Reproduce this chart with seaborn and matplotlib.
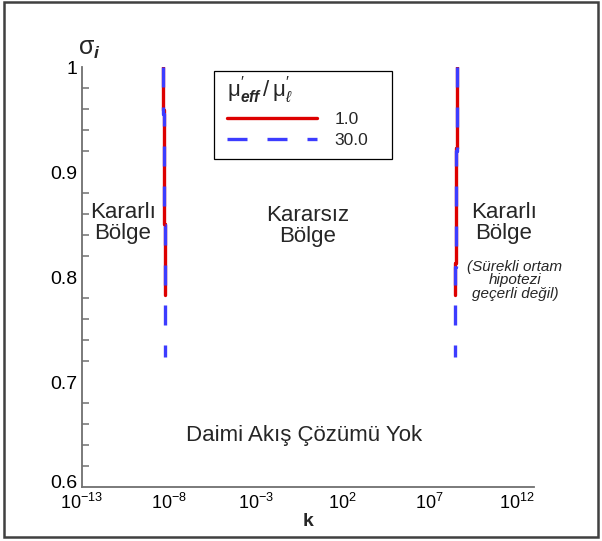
import numpy as np
import pandas as pd
import matplotlib
matplotlib.use("Agg")
import matplotlib.pyplot as plt
from matplotlib.patches import Rectangle
from matplotlib.lines import Line2D
from matplotlib.ticker import FixedLocator, MultipleLocator, FuncFormatter
from matplotlib.transforms import ScaledTranslation
import seaborn as sns

# Stability boundaries: sigma_i versus log10(k) for two viscosity ratios
ratio_labels = ["1.0", "30.0"]

# mu'_eff/mu'_l = 1.0
sigma_r1_low = [1.00, 0.959, 0.959, 0.851, 0.851, 0.783]
logk_r1_low = [-8.35, -8.35, -8.29, -8.29, -8.23, -8.23]
sigma_r1_high = [1.00, 0.923, 0.923, 0.813, 0.813, 0.783]
logk_r1_high = [8.57, 8.57, 8.49, 8.49, 8.44, 8.44]

# mu'_eff/mu'_l = 30.0
sigma_r30_low = [1.00, 0.955, 0.955, 0.850, 0.850, 0.724]
logk_r30_low = [-8.35, -8.35, -8.29, -8.29, -8.23, -8.23]
sigma_r30_high = [1.00, 0.920, 0.920, 0.810, 0.810, 0.724]
logk_r30_high = [8.57, 8.57, 8.49, 8.49, 8.44, 8.44]

x_tick_exponents = [-13, -8, -3, 2, 7, 12]
y_tick_values = [0.6, 0.7, 0.8, 0.9, 1.0]
y_tick_labels = ["0.6", "0.7", "0.8", "0.9", "1"]

rows = []
for ratio, branch, logk, sig in [
    ("1.0", "low", logk_r1_low, sigma_r1_low),
    ("1.0", "high", logk_r1_high, sigma_r1_high),
    ("30.0", "low", logk_r30_low, sigma_r30_low),
    ("30.0", "high", logk_r30_high, sigma_r30_high),
]:
    for lk, s in zip(logk, sig):
        rows.append({"ratio": ratio, "branch": ratio + branch, "k": 10.0 ** lk, "sigma": s})
df = pd.DataFrame(rows)

sns.set_theme(style="white")
plt.rcParams["font.family"] = ["Liberation Sans", "DejaVu Sans"]
plt.rcParams["mathtext.fontset"] = "custom"
plt.rcParams["mathtext.rm"] = "Liberation Sans"
plt.rcParams["mathtext.it"] = "Liberation Sans:italic"
plt.rcParams["mathtext.bf"] = "Liberation Sans:bold:italic"

fig = plt.figure(figsize=(6.02, 5.41), dpi=100)
ax = fig.add_axes([0.136, 0.0998, 0.751, 0.776])

red = "#dd0000"
blue = "#3c3cff"
palette = {"1.0": red, "30.0": blue}
dashes = {"1.0": "", "30.0": (6, 6)}

for ratio in ratio_labels:
    sns.lineplot(data=df[df.ratio == ratio], x="k", y="sigma", hue="ratio", style="ratio",
                 units="branch", estimator=None, sort=False, palette=palette,
                 dashes=dashes, linewidth=2.4, legend=False, ax=ax)

ax.set_xscale("log")
ax.set_xlim(1e-13, 1e13)
ax.set_ylim(0.6, 1.0)

ax.xaxis.set_major_locator(FixedLocator([10.0 ** e for e in x_tick_exponents]))
ax.xaxis.set_minor_locator(FixedLocator([]))
ax.xaxis.set_major_formatter(FuncFormatter(lambda v, p: r"$10^{%d}$" % round(np.log10(v))))
ax.yaxis.set_major_locator(FixedLocator(y_tick_values))
ax.yaxis.set_major_formatter(FuncFormatter(
    lambda v, p: y_tick_labels[int(round((v - 0.6) / 0.1))]))
ax.yaxis.set_minor_locator(MultipleLocator(0.02))

tick_color = "#707070"
ax.tick_params(axis="both", which="major", direction="in", length=7.5, width=1.1,
               color=tick_color, labelcolor="black")
ax.tick_params(axis="y", which="major", labelsize=14, pad=3)
ax.tick_params(axis="x", which="major", labelsize=13, pad=4)
ax.tick_params(axis="y", which="minor", direction="in", length=5, width=1.1,
               color=tick_color, left=True)

# lift the lowest y label a little off the x labels
fig.canvas.draw()
ylabels = ax.get_yticklabels()
ylabels[0].set_transform(ylabels[0].get_transform()
                         + ScaledTranslation(0, 4 / 72, fig.dpi_scale_trans))

for side in ["top", "right"]:
    ax.spines[side].set_visible(False)
for side in ["left", "bottom"]:
    ax.spines[side].set_color(tick_color)
    ax.spines[side].set_linewidth(1.3)

ax.set_xlabel("k", fontsize=14, fontweight="bold", labelpad=0)
ax.set_ylabel("")
fig.text(0.148, 0.910, r"$\mathrm{\sigma}_{\mathbf{i}}$", fontsize=18, ha="center",
         va="center")

# Region annotations
region_kw = dict(fontsize=16, ha="center", va="center", linespacing=1.0)
ax.text(10.0 ** -10.65, 0.852, "Kararlı\nBölge", **region_kw)
ax.text(10.0 ** 0.0, 0.849, "Kararsız\nBölge", **region_kw)
ax.text(10.0 ** 11.26, 0.852, "Kararlı\nBölge", **region_kw)
ax.text(10.0 ** 11.9, 0.797, "(Sürekli ortam\nhipotezi\ngeçerli değil)", fontsize=11,
        style="italic", ha="center", va="center", linespacing=0.95)
ax.text(10.0 ** -0.24, 0.6495, "Daimi Akış Çözümü Yok", fontsize=16, ha="center",
        va="center")

handles = [Line2D([], [], color=red, lw=2.4),
           Line2D([], [], color=blue, lw=2.4, dashes=(6, 6))]
leg = fig.legend(handles, ratio_labels,
                 title=r"$\mathrm{\mu}^{\prime}_{\mathbf{eff}}\,/\,\mathrm{\mu}^{\prime}_{\ell}$",
                 loc="upper left", bbox_to_anchor=(0.377, 0.862), borderaxespad=0,
                 fontsize=12.5, title_fontsize=16, handlelength=5.2, handletextpad=1.0,
                 frameon=False, borderpad=0.0, labelspacing=0.35, alignment="left")

# legend box
fig.patches.append(Rectangle((214 / 602, 1 - 159 / 541), (392 - 214) / 602, 88 / 541,
                             transform=fig.transFigure, fill=False,
                             edgecolor="black", linewidth=0.9))

# Outer frame around the whole figure
fig.patches.append(Rectangle((0.006, 0.007), 0.988, 0.99, transform=fig.transFigure,
                             fill=False, edgecolor="#404040", linewidth=1.8))

fig.savefig("out.png", dpi=100)
